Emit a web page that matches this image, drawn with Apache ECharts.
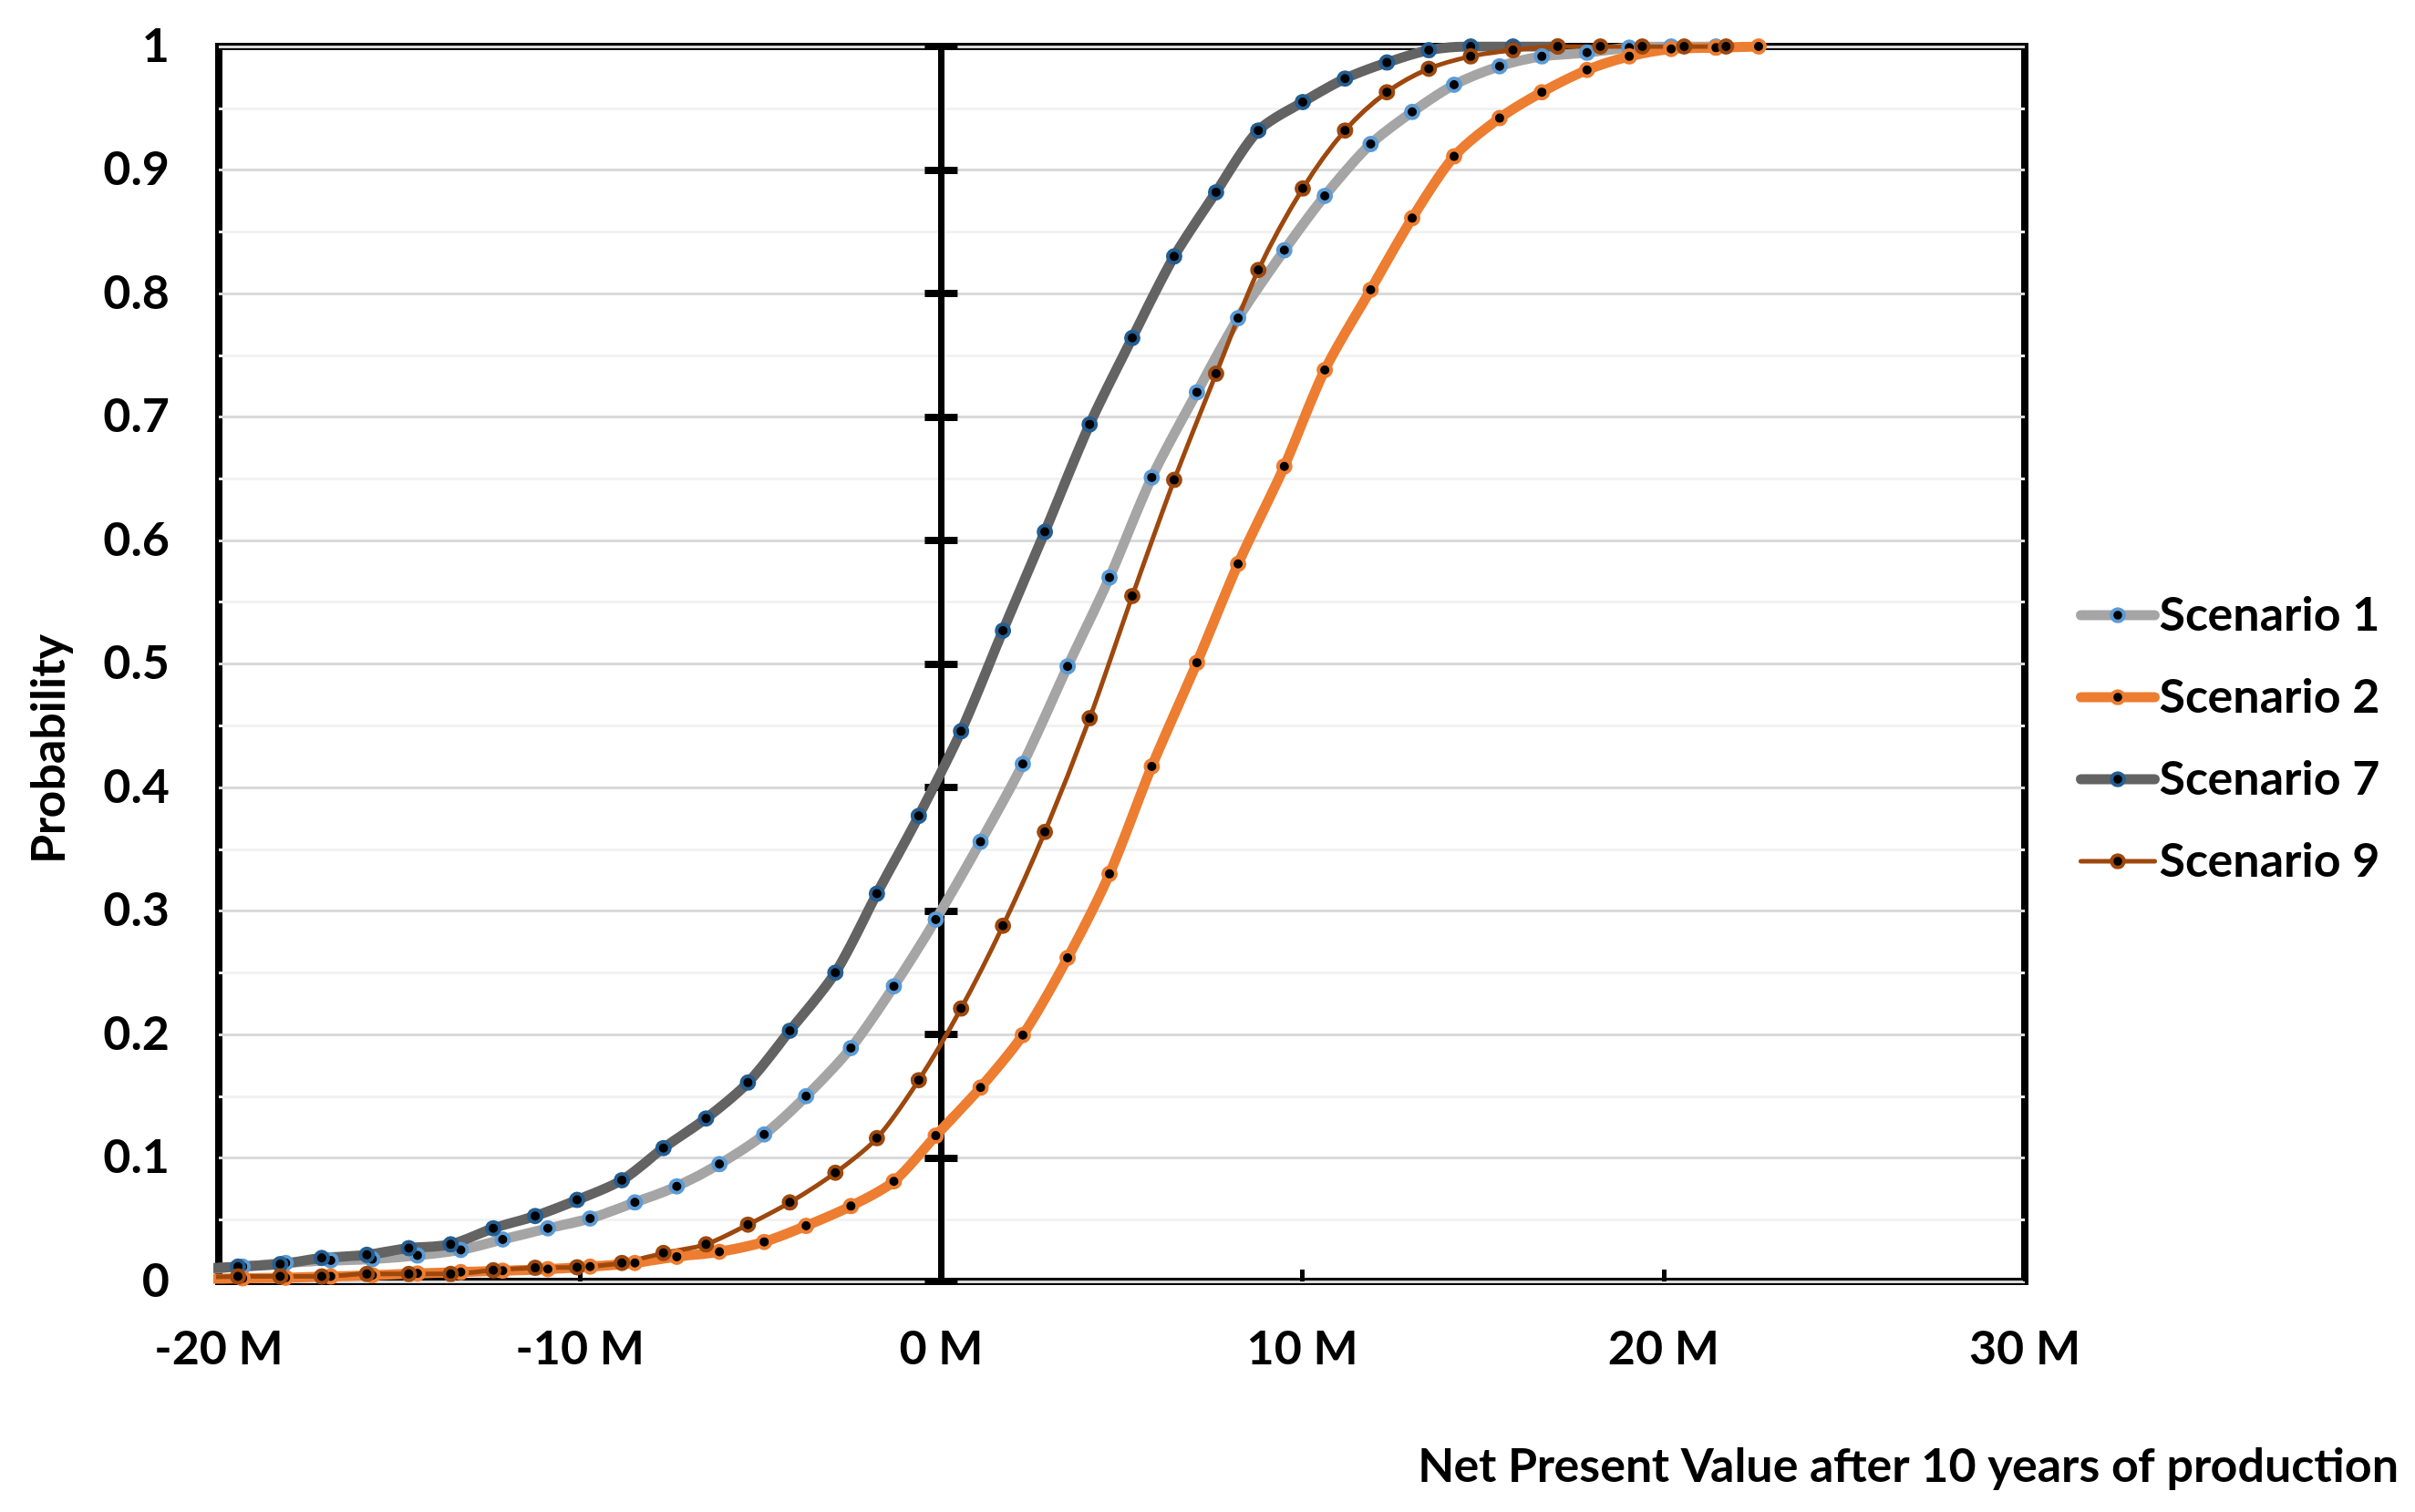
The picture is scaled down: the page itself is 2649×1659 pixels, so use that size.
<!DOCTYPE html>
<html>
<head>
<meta charset="utf-8">
<script src="https://cdn.jsdelivr.net/npm/echarts@6/dist/echarts.min.js"></script>
<style>
html,body{margin:0;padding:0;background:#fff;}
#chart{width:2649px;height:1659px;}
</style>
</head>
<body>
<div id="chart"></div>
<script>
// x positions (M) of the bins shared by Scenario 7 and Scenario 9
const xBins79 = [-20.65, -19.47, -18.30, -17.15, -15.90, -14.74, -13.58, -12.40, -11.24, -10.08,
  -8.84, -7.69, -6.51, -5.35, -4.19, -2.93, -1.78, -0.62, 0.55, 1.71,
  2.87, 4.11, 5.29, 6.45, 7.61, 8.78, 10.01, 11.18, 12.34, 13.50,
  14.66, 15.83, 17.07, 18.25, 19.41, 20.57, 21.73];
// x positions (M) of the bins shared by Scenario 1 and Scenario 2
const xBins12 = [-20.54, -19.34, -18.15, -16.90, -15.75, -14.50, -13.30, -12.14, -10.89, -9.72,
  -8.48, -7.32, -6.14, -4.90, -3.74, -2.50, -1.31, -0.15, 1.09, 2.26,
  3.50, 4.66, 5.83, 7.08, 8.22, 9.50, 10.62, 11.89, 13.04, 14.20,
  15.46, 16.63, 17.88, 19.05, 20.21, 21.45, 22.63];

const scenario1 = [0.010, 0.012, 0.015, 0.017, 0.018, 0.021, 0.0255, 0.034, 0.043, 0.051,
  0.064, 0.077, 0.095, 0.119, 0.150, 0.189, 0.239, 0.293, 0.356, 0.419,
  0.498, 0.570, 0.651, 0.720, 0.780, 0.835, 0.879, 0.921, 0.947, 0.969,
  0.984, 0.992, 0.995, 0.999, 1.0, 1.0];
const scenario2 = [0.002, 0.0025, 0.003, 0.004, 0.005, 0.0065, 0.0075, 0.0087, 0.010, 0.012,
  0.015, 0.020, 0.024, 0.032, 0.045, 0.061, 0.081, 0.118, 0.157, 0.1995,
  0.262, 0.330, 0.417, 0.501, 0.581, 0.660, 0.738, 0.803, 0.861, 0.911,
  0.942, 0.963, 0.981, 0.992, 0.998, 0.999, 1.0];
const scenario7 = [0.010, 0.012, 0.014, 0.019, 0.0215, 0.027, 0.030, 0.043, 0.053, 0.066,
  0.082, 0.108, 0.132, 0.161, 0.203, 0.250, 0.314, 0.377, 0.4455, 0.527,
  0.607, 0.694, 0.764, 0.830, 0.882, 0.932, 0.955, 0.974, 0.987, 0.997,
  1.0, 1.0, 1.0];
const scenario9 = [0.003, 0.004, 0.004, 0.004, 0.006, 0.006, 0.006, 0.009, 0.011, 0.0115,
  0.015, 0.023, 0.030, 0.046, 0.064, 0.088, 0.116, 0.163, 0.221, 0.288,
  0.364, 0.456, 0.555, 0.649, 0.735, 0.819, 0.885, 0.932, 0.963, 0.982,
  0.992, 0.997, 1.0, 1.0, 1.0, 1.0, 1.0];

const seriesNames = ['Scenario 1', 'Scenario 2', 'Scenario 7', 'Scenario 9'];
const xTitle = 'Net Present Value after 10 years of production';
const yTitle = 'Probability';

const FONT = 'Lato, "Open Sans", sans-serif';
const FS = 52;

// style per series: line colour, line width, marker border colour
const styles = [
  { line: '#a5a5a5', width: 11, marker: '#5b9bd5' },
  { line: '#ed7d31', width: 11, marker: '#ed7d31' },
  { line: '#636363', width: 11, marker: '#255e91' },
  { line: '#9e480e', width: 5, marker: '#9e480e' }
];

function pairs(xs, ys) { return ys.map((y, i) => [xs[i], y]); }

function lineSeries(name, data, st) {
  return {
    name: name, type: 'line', data: data,
    smooth: 0.3, symbol: 'circle', symbolSize: 14, showAllSymbol: true, clip: true,
    lineStyle: { color: st.line, width: st.width, cap: 'round', join: 'round' },
    itemStyle: { color: '#000', borderColor: st.marker, borderWidth: 4 },
    emphasis: { disabled: true }
  };
}

const chart = echarts.init(document.getElementById('chart'), null, { renderer: 'canvas' });
const option = {
  animation: false,
  backgroundColor: '#ffffff',
  grid: { left: 240, right: 428, top: 51, bottom: 253, show: true,
          borderColor: '#000', borderWidth: 8, backgroundColor: 'transparent', containLabel: false },
  xAxis: {
    type: 'value', min: -20, max: 30, interval: 10,
    axisLine: { show: false, onZero: false },
    axisTick: { show: true, inside: true, length: 13, lineStyle: { color: '#000', width: 5 } },
    axisLabel: { formatter: v => v + ' M', fontFamily: FONT, fontSize: FS, fontWeight: 'bold',
                 color: '#000', margin: 48, lineHeight: FS },
    splitLine: { show: false }
  },
  yAxis: [
    {
      type: 'value', min: 0, max: 1, interval: 0.1, position: 'left',
      axisLine: { show: false, onZero: false },
      axisTick: { show: false },
      axisLabel: { formatter: v => String(Number(v.toFixed(2))), fontFamily: FONT, fontSize: FS,
                   fontWeight: 'bold', color: '#000', margin: 54 },
      splitLine: { show: true, lineStyle: { color: '#d9d9d9', width: 3 } },
      minorTick: { show: false, splitNumber: 2 },
      minorSplitLine: { show: true, lineStyle: { color: '#f2f2f2', width: 3 } }
    },
    {
      type: 'value', min: 0, max: 1, interval: 0.1, position: 'left',
      axisLine: { show: true, onZero: true, onZeroAxisIndex: 0, lineStyle: { color: '#000', width: 7 } },
      axisTick: { show: true, inside: false, length: 18, lineStyle: { color: '#000', width: 8 } },
      axisLabel: { show: false }, splitLine: { show: false }
    },
    {
      type: 'value', min: 0, max: 1, interval: 0.1, position: 'left',
      axisLine: { show: false, onZero: true, onZeroAxisIndex: 0 },
      axisTick: { show: true, inside: true, length: 18, lineStyle: { color: '#000', width: 8 } },
      axisLabel: { show: false }, splitLine: { show: false }
    }
  ],
  legend: {
    data: seriesNames.map((n, i) => ({
      name: n,
      itemStyle: { color: '#000', borderColor: styles[i].marker, borderWidth: 4 },
      lineStyle: { color: styles[i].line, width: styles[i].width, cap: 'round' }
    })),
    orient: 'vertical', left: 2272, top: 644,
    itemWidth: 81, itemHeight: 17, itemGap: 38,
    textStyle: { fontFamily: FONT, fontSize: FS, fontWeight: 'bold', color: '#000', lineHeight: FS },
    selectedMode: false
  },
  series: seriesNames.map((n, i) => lineSeries(n,
    i === 0 ? pairs(xBins12, scenario1) :
    i === 1 ? pairs(xBins12, scenario2) :
    i === 2 ? pairs(xBins79, scenario7) : pairs(xBins79, scenario9), styles[i])),
  graphic: [
    { type: 'text', x: 54, y: 822, rotation: Math.PI / 2,
      style: { text: yTitle, fontFamily: FONT, fontSize: FS, fontWeight: 'bold', fill: '#000',
               align: 'center', verticalAlign: 'middle' } },
    { type: 'text', x: 2631, y: 1609,
      style: { text: xTitle, fontFamily: FONT, fontSize: FS, fontWeight: 'bold', fill: '#000',
               align: 'right', verticalAlign: 'middle' } }
  ]
};
chart.setOption(option);
</script>
</body>
</html>
